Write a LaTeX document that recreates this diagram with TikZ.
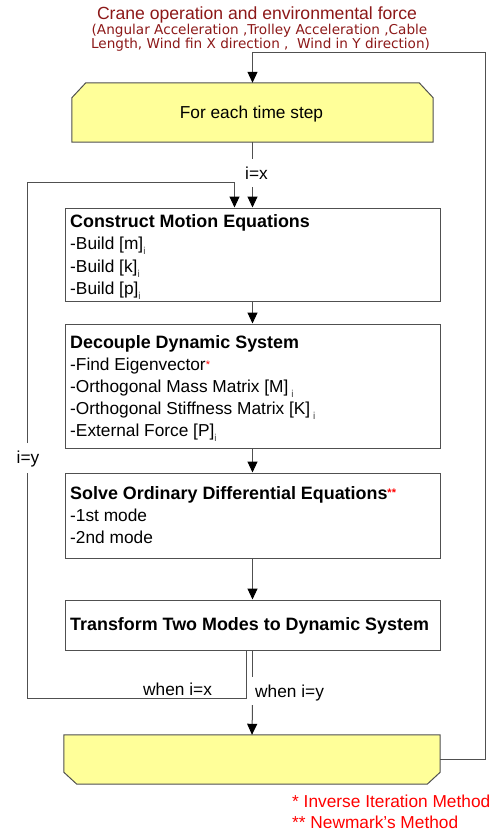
\documentclass[tikz,border=0pt]{standalone}
\usepackage{fontspec}
\setmainfont{Liberation Sans}
\newfontfamily\verd{DejaVu Sans}
\usetikzlibrary{arrows.meta,backgrounds}
\definecolor{ln}{RGB}{80,80,80}
\definecolor{dred}{RGB}{140,24,24}
\definecolor{yel}{RGB}{255,255,153}
\newcommand{\sbi}{\raisebox{-5pt}{\fontsize{10}{10}\selectfont\color{darkgray}i}}
\newcommand{\rst}[2]{\raisebox{#1}{\fontsize{11}{11}\selectfont\color{red}#2}}
\begin{document}
\begin{tikzpicture}[x=1pt,y=-1pt,
  box/.style={draw=ln,line width=1pt,minimum width=375pt,inner sep=0pt},
  txt/.style={anchor=base west,inner sep=0pt,font=\fontsize{17.3}{20}\selectfont},
  hd/.style={anchor=base west,inner sep=0pt,font=\fontsize{17.9}{20}\selectfont\bfseries},
  conn/.style={draw=ln,line width=1pt},
  arr/.style={conn,-{Triangle[length=11pt,width=10pt,color=black]}},
  lab/.style={inner sep=0pt,font=\fontsize{17.3}{20}\selectfont},
  yshape/.style={fill=yel,draw=ln,line width=1pt}]
\useasboundingbox (0,0) rectangle (491,832);

% title
\node[anchor=base,inner sep=0pt,text=dred,font=\fontsize{17.6}{20}\selectfont] (title) at (257,20) {Crane operation and environmental force};
\node[anchor=base,inner sep=0pt,text=dred,font=\verd\fontsize{13.6}{14}\selectfont] (sub1) at (259.5,35) {(Angular Acceleration ,Trolley Acceleration ,Cable};
\node[anchor=base,inner sep=0pt,text=dred,font=\verd\fontsize{13.6}{14}\selectfont] (sub2) at (260.5,49) {Length, Wind fin X direction ,\ \ Wind in Y direction)};

% top yellow box
\node[minimum width=361pt,minimum height=59pt,inner sep=0pt] (ts) at (252.5,112.5) {};
\node[lab,anchor=base] (tstext) at (251.5,119) {For each time step};

% boxes
\node[box,minimum height=93pt] (b1) at (252.5,254.5) {};
\node[box,minimum height=124pt] (b2) at (252.5,386) {};
\node[box,minimum height=85pt] (b3) at (252.5,515.5) {};
\node[box,minimum height=50pt] (b4) at (252.5,625) {};

% bottom yellow box
\node[minimum width=376pt,minimum height=49pt,inner sep=0pt] (bt) at (252,759.5) {};

\begin{scope}[on background layer]
\path[yshape] ([xshift=14pt]ts.north west) -- ([xshift=-14pt]ts.north east) -- ([yshift=-15pt]ts.north east)
  -- (ts.south east) -- (ts.south west) -- ([yshift=-15pt]ts.north west) -- cycle;
\path[yshape] (bt.north west) -- (bt.north east) -- ([yshift=12pt]bt.south east) -- ([xshift=-13pt]bt.south east)
  -- ([xshift=13pt]bt.south west) -- ([yshift=12pt]bt.south west) -- cycle;
\end{scope}

% box texts
\node[hd] (t11) at (70,227) {Construct Motion Equations};
\node[txt] (t12) at (70,249.5) {-Build [m]\sbi};
\node[txt] (t13) at (70,272) {-Build [k]\sbi};
\node[txt] (t14) at (70,294) {-Build [p]\sbi};

\node[hd] (t21) at (70,348) {Decouple Dynamic System};
\node[txt] (t22) at (70,370) {-Find Eigenvector\rst{2pt}{*}};
\node[txt] (t23) at (70,392) {-Orthogonal Mass Matrix [M]\,\sbi};
\node[txt] (t24) at (70,414) {-Orthogonal Stiffness Matrix [K]\,\sbi};
\node[txt] (t25) at (70,436) {-External Force [P]\sbi};

\node[hd] (t31) at (70,499) {Solve Ordinary Differential Equations\rst{3pt}{**}};
\node[txt] (t32) at (70,521.5) {-1st mode};
\node[txt] (t33) at (70,543.5) {-2nd mode};

\node[hd] (t41) at (70,630.5) {Transform Two Modes to Dynamic System};

% labels
\node[lab,anchor=base] (ix) at (256.5,179) {i=x};
\node[lab,anchor=base] (iy) at (28,463) {i=y};
\node[lab,anchor=base west] (wx) at (143,695) {when i=x};
\node[lab,anchor=base west] (wy) at (255,697) {when i=y};

% footnotes
\node[lab,anchor=base west,text=red] (fn1) at (292,807) {* Inverse Iteration Method};
\node[lab,anchor=base west,text=red] (fn2) at (292,828) {** Newmark’s Method};

% coordinates
\coordinate (f1) at (485,53);
\coordinate (g1) at (252.5,159);
\coordinate (g2) at (252.5,187);
\coordinate (g3) at (252.5,677);
\coordinate (g4) at (252.5,705);
\coordinate (c1) at (27.5,698);
\coordinate (c2) at (27.5,443);
\coordinate (c3) at (27.5,473);
\coordinate (c4) at (27.5,182);

% connectors
\draw[arr] (bt.east) -| (f1) -| (ts.north);
\draw[conn] (ts.south) -- (g1);
\draw[arr] (g2) -- (b1.north);
\draw[arr] (b1.south) -- (b2.north);
\draw[arr] (b2.south) -- (b3.north);
\draw[arr] (b3.south) -- (b4.north);
\draw[conn] (b4.south) -- (g3);
\draw[arr] (g4) -- (bt.north);
\draw[conn] ([xshift=-6pt]b4.south) |- (c1) -- (c3);
\draw[arr] (c2) -- (c4) -| ([xshift=-18pt]b1.north);
\end{tikzpicture}
\end{document}
